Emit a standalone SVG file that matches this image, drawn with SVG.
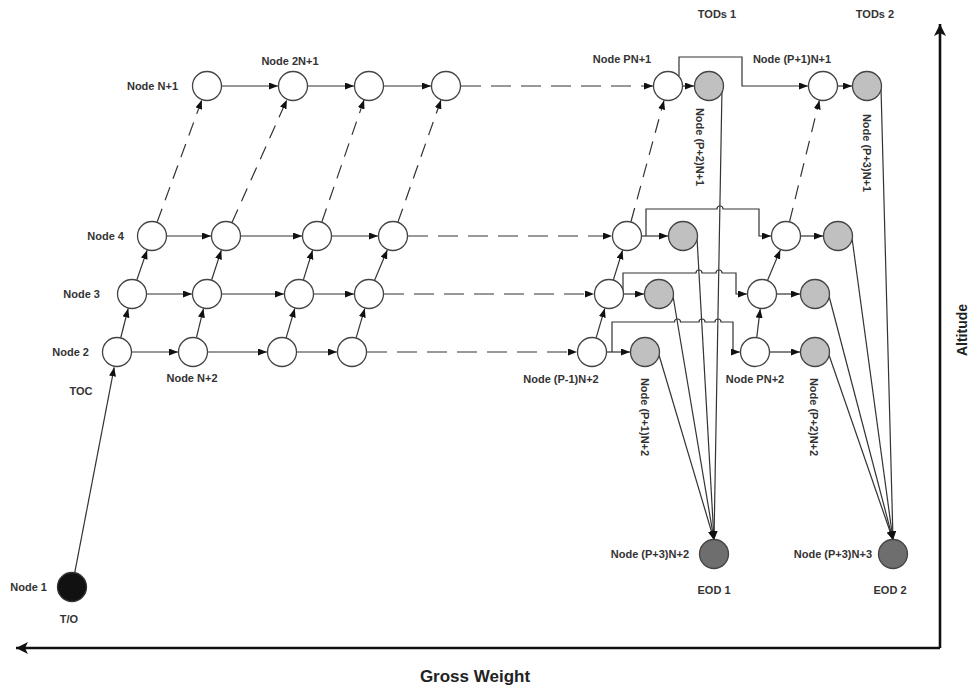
<svg xmlns="http://www.w3.org/2000/svg" width="977" height="688" viewBox="0 0 977 688">
  <style>
    .lbl { font-family: "Liberation Sans", Arial, sans-serif; font-size: 11px; font-weight: bold; fill: #333; dominant-baseline: central; }
    .big { font-family: "Liberation Sans", Arial, sans-serif; font-weight: bold; fill: #222; dominant-baseline: central; text-anchor: middle; }
    .mid { text-anchor: middle; }
    .end { text-anchor: end; }
    .wn { fill: #fff; stroke: #444; stroke-width: 1.3; }
    .gn { fill: #c0c0c0; stroke: #444; stroke-width: 1.3; }
    .dn { fill: #6e6e6e; stroke: #444; stroke-width: 1.3; }
    .bn { fill: #111; stroke: #333; stroke-width: 1.3; }
    .ln { fill: none; stroke: #333; stroke-width: 1.2; }
    .arr { marker-end: url(#ah); }
    .dsh { stroke-dasharray: 20 10; }
    .dsd { stroke-dasharray: 14 9; }
    .axis { fill: none; stroke: #111; stroke-width: 2.6; marker-end: url(#axh); }
  </style>
  <defs>
    <marker id="ah" markerUnits="userSpaceOnUse" markerWidth="10" markerHeight="8" refX="9" refY="3.5" orient="auto">
      <path d="M0,0 L9,3.5 L0,7 z" fill="#111"/>
    </marker>
    <marker id="axh" markerUnits="userSpaceOnUse" markerWidth="14" markerHeight="12" refX="12" refY="6" orient="auto">
      <path d="M0,0 L12,6 L0,12 L3,6 z" fill="#111"/>
    </marker>
  </defs>

  <!-- axes -->
  <g id="axes">
    <path class="axis" d="M940,648 L16,648"/>
    <path class="axis" d="M940,648 L940,24"/>
  </g>

  <g id="connectors">
    <!-- take-off to top of climb -->
    <path class="ln arr" d="M74.8,572.3 L114.2,367.3"/>

    <!-- left grid: horizontal cruise arcs -->
    <path class="ln arr" d="M222,86 L278,86"/>
    <path class="ln arr" d="M308,86 L354,86"/>
    <path class="ln arr" d="M384,86 L431,86"/>
    <path class="ln arr dsh" d="M461,86 L653,86"/>

    <path class="ln arr" d="M167,236 L211,236"/>
    <path class="ln arr" d="M241,236 L302,236"/>
    <path class="ln arr" d="M332,236 L378,236"/>
    <path class="ln arr dsh" d="M408,236 L612,236"/>

    <path class="ln arr" d="M147,294 L192,294"/>
    <path class="ln arr" d="M222,294 L284,294"/>
    <path class="ln arr" d="M314,294 L354,294"/>
    <path class="ln arr dsh" d="M384,294 L594,294"/>

    <path class="ln arr" d="M132,352 L178,352"/>
    <path class="ln arr" d="M208,352 L267,352"/>
    <path class="ln arr" d="M297,352 L337,352"/>
    <path class="ln arr dsh" d="M367,352 L577,352"/>

    <!-- left grid: climb arcs -->
    <path class="ln arr" d="M120.8,337.5 L128.2,308.5"/>
    <path class="ln arr" d="M196.5,337.4 L203.5,308.6"/>
    <path class="ln arr" d="M286.2,337.6 L294.8,308.4"/>
    <path class="ln arr" d="M356.2,337.6 L364.8,308.4"/>

    <path class="ln arr" d="M136.9,279.8 L147.1,250.2"/>
    <path class="ln arr" d="M211.7,279.7 L221.3,250.3"/>
    <path class="ln arr" d="M303.4,279.7 L312.6,250.3"/>
    <path class="ln arr" d="M374.7,280.1 L387.3,249.9"/>

    <path class="ln arr dsd" d="M157.2,221.9 L201.8,100.1"/>
    <path class="ln arr dsd" d="M232.1,222.3 L286.9,99.7"/>
    <path class="ln arr dsd" d="M321.9,221.8 L364.1,99.8"/>
    <path class="ln arr dsd" d="M398,221.9 L441,99.9"/>

    <!-- right block: climb arcs -->
    <path class="ln arr" d="M596.2,337.6 L604.8,308.4"/>
    <path class="ln arr" d="M613.4,279.7 L622.6,250.3"/>
    <path class="ln arr dsd" d="M631,221.5 L664,100.5"/>
    <path class="ln arr" d="M756.8,337.1 L760.2,308.9"/>
    <path class="ln arr" d="M767.7,280.1 L780.3,249.9"/>
    <path class="ln arr dsd" d="M789.6,221.4 L819.4,100.4"/>

    <!-- right block: into top-of-descent nodes -->
    <path class="ln arr" d="M683,86 L694,86"/>
    <path class="ln arr" d="M838,86 L852,86"/>
    <path class="ln arr" d="M642,236 L668,236"/>
    <path class="ln arr" d="M801,236 L823,236"/>
    <path class="ln arr" d="M624,294 L644,294"/>
    <path class="ln arr" d="M777,294 L800,294"/>
    <path class="ln arr" d="M607,352 L630,352"/>
    <path class="ln arr" d="M770,352 L800,352"/>

    <!-- cruise continuation past the first descent point -->
    <path class="ln arr" d="M679,76 V57 H742 V86 H808"/>
    <path class="ln arr" d="M646,236 V209 H717 a3,3 0 0 1 6,0 H759 V236 H771"/>
    <path class="ln arr" d="M623,294 V273 H696 a3,3 0 0 1 6,0 H716 a3,3 0 0 1 6,0 H736 V294 H747"/>
    <path class="ln arr" d="M612,352 V322 H674.5 a3,3 0 0 1 6,0 H699 a3,3 0 0 1 6,0 H715 a3,3 0 0 1 6,0 H733 V352 H740"/>

    <!-- descents to EOD 1 -->
    <path class="ln arr" d="M722,88 L714,540"/>
    <path class="ln arr" d="M697,238 L714,540"/>
    <path class="ln arr" d="M673,296 L714,540"/>
    <path class="ln arr" d="M659,355 L714,540"/>

    <!-- descents to EOD 2 -->
    <path class="ln arr" d="M881,88 L893,540"/>
    <path class="ln arr" d="M852,238 L893,540"/>
    <path class="ln arr" d="M829,296 L893,540"/>
    <path class="ln arr" d="M829,355 L893,540"/>
  </g>

  <!-- nodes -->
  <g id="node-1"><circle class="bn" cx="72" cy="587" r="14.5"/></g>
  <g id="node-2"><circle class="wn" cx="117" cy="352" r="14.5"/></g>
  <g id="node-3"><circle class="wn" cx="132" cy="294" r="14.5"/></g>
  <g id="node-4"><circle class="wn" cx="152" cy="236" r="14.5"/></g>
  <g id="node-n1"><circle class="wn" cx="207" cy="86" r="14.5"/></g>
  <g id="node-n2"><circle class="wn" cx="193" cy="352" r="14.5"/></g>
  <g id="node-n3"><circle class="wn" cx="207" cy="294" r="14.5"/></g>
  <g id="node-n4"><circle class="wn" cx="226" cy="236" r="14.5"/></g>
  <g id="node-2n1"><circle class="wn" cx="293" cy="86" r="14.5"/></g>
  <g id="node-2n2"><circle class="wn" cx="282" cy="352" r="14.5"/></g>
  <g id="node-2n3"><circle class="wn" cx="299" cy="294" r="14.5"/></g>
  <g id="node-2n4"><circle class="wn" cx="317" cy="236" r="14.5"/></g>
  <g id="node-3n1"><circle class="wn" cx="369" cy="86" r="14.5"/></g>
  <g id="node-3n2"><circle class="wn" cx="352" cy="352" r="14.5"/></g>
  <g id="node-3n3"><circle class="wn" cx="369" cy="294" r="14.5"/></g>
  <g id="node-3n4"><circle class="wn" cx="393" cy="236" r="14.5"/></g>
  <g id="node-4n1"><circle class="wn" cx="446" cy="86" r="14.5"/></g>

  <g id="node-pn1"><circle class="wn" cx="668" cy="86" r="14.5"/></g>
  <g id="node-p2n1"><circle class="gn" cx="709" cy="86" r="14.5"/></g>
  <g id="node-p1n1"><circle class="wn" cx="823" cy="86" r="14.5"/></g>
  <g id="node-p3n1"><circle class="gn" cx="867" cy="86" r="14.5"/></g>

  <g id="node-pm1n4"><circle class="wn" cx="627" cy="236" r="14.5"/></g>
  <g id="node-tod1-4"><circle class="gn" cx="683" cy="236" r="14.5"/></g>
  <g id="node-pn4"><circle class="wn" cx="786" cy="236" r="14.5"/></g>
  <g id="node-tod2-4"><circle class="gn" cx="838" cy="236" r="14.5"/></g>

  <g id="node-pm1n3"><circle class="wn" cx="609" cy="294" r="14.5"/></g>
  <g id="node-tod1-3"><circle class="gn" cx="659" cy="294" r="14.5"/></g>
  <g id="node-pn3"><circle class="wn" cx="762" cy="294" r="14.5"/></g>
  <g id="node-tod2-3"><circle class="gn" cx="815" cy="294" r="14.5"/></g>

  <g id="node-pm1n2"><circle class="wn" cx="592" cy="352" r="14.5"/></g>
  <g id="node-p1n2"><circle class="gn" cx="645" cy="352" r="14.5"/></g>
  <g id="node-pn2"><circle class="wn" cx="755" cy="352" r="14.5"/></g>
  <g id="node-p2n2"><circle class="gn" cx="815" cy="352" r="14.5"/></g>

  <g id="node-eod1"><circle class="dn" cx="714" cy="554" r="14.5"/></g>
  <g id="node-eod2"><circle class="dn" cx="893" cy="554" r="14.5"/></g>

  <!-- labels -->
  <g id="labels">
    <text class="lbl end" x="178" y="86">Node N+1</text>
    <text class="lbl mid" x="290" y="61">Node 2N+1</text>
    <text class="lbl end" x="124" y="236">Node 4</text>
    <text class="lbl end" x="100" y="294">Node 3</text>
    <text class="lbl end" x="89" y="352">Node 2</text>
    <text class="lbl mid" x="192" y="378">Node N+2</text>
    <text class="lbl mid" x="81" y="391">TOC</text>
    <text class="lbl end" x="47" y="587">Node 1</text>
    <text class="lbl mid" x="69" y="619">T/O</text>

    <text class="lbl mid" x="717" y="14">TODs 1</text>
    <text class="lbl mid" x="875" y="14">TODs 2</text>
    <text class="lbl mid" x="622" y="59">Node PN+1</text>
    <text class="lbl mid" x="792" y="59">Node (P+1)N+1</text>
    <text class="lbl mid" x="561" y="379">Node (P-1)N+2</text>
    <text class="lbl mid" x="755" y="379">Node PN+2</text>
    <text class="lbl end" x="689" y="554">Node (P+3)N+2</text>
    <text class="lbl end" x="872" y="554">Node (P+3)N+3</text>
    <text class="lbl mid" x="714" y="590">EOD 1</text>
    <text class="lbl mid" x="890" y="590">EOD 2</text>

    <text class="lbl mid" transform="translate(700,147) rotate(90)">Node (P+2)N+1</text>
    <text class="lbl mid" transform="translate(867,153) rotate(90)">Node (P+3)N+1</text>
    <text class="lbl mid" transform="translate(645,417) rotate(90)">Node (P+1)N+2</text>
    <text class="lbl mid" transform="translate(814,417) rotate(90)">Node (P+2)N+2</text>

    <text class="big" x="475" y="676" font-size="17">Gross Weight</text>
    <text class="big" font-size="14" transform="translate(962,330) rotate(-90)">Altitude</text>
  </g>
</svg>
